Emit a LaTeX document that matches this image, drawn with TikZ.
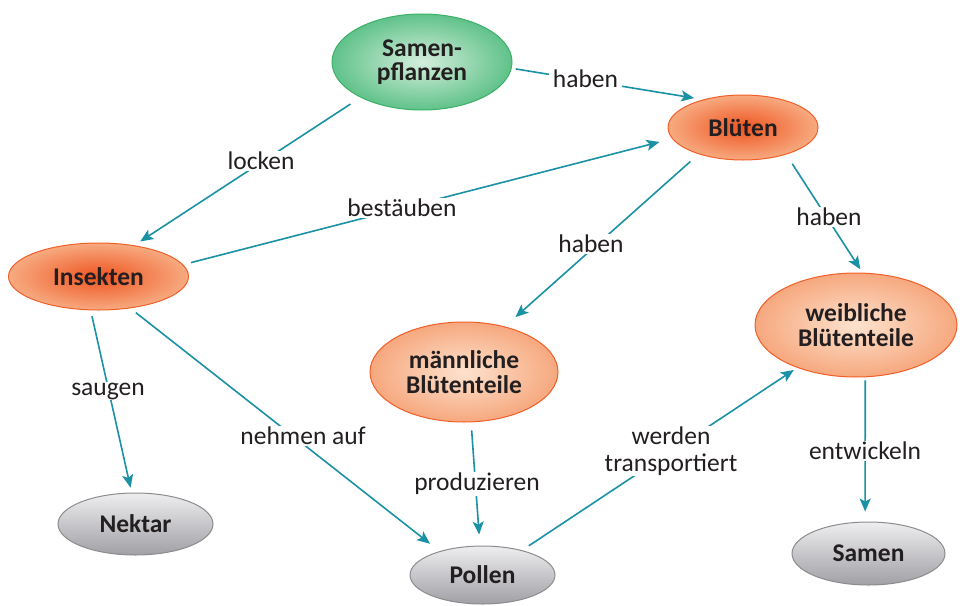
\documentclass[tikz,border=0pt]{standalone}
\usepackage{fontspec}
\setmainfont{Carlito}
\usetikzlibrary{shapes.geometric,arrows.meta}
\definecolor{tealc}{RGB}{26,145,164}
\definecolor{txt}{RGB}{35,31,32}
\definecolor{grnborder}{RGB}{60,176,104}
\definecolor{grnout}{RGB}{96,194,138}
\definecolor{grnin}{RGB}{212,238,220}
\definecolor{orborder}{RGB}{240,95,40}
\definecolor{orin}{RGB}{239,84,32}
\definecolor{orout}{RGB}{247,170,128}
\definecolor{lorin}{RGB}{253,226,206}
\definecolor{lorout}{RGB}{246,168,126}
\definecolor{grborder}{RGB}{140,140,142}
\definecolor{grtop}{RGB}{238,238,240}
\definecolor{grmid}{RGB}{222,222,225}
\definecolor{grbot}{RGB}{160,160,165}
\begin{document}
\begin{tikzpicture}[x=1pt,y=-1pt,
  ell/.style={ellipse, inner sep=0pt, align=center,
    font=\fontsize{25.5}{24.5}\selectfont\bfseries, text=txt, line width=1pt},
  greenell/.style={draw=grnborder, inner color=grnin, outer color=grnout},
  darkor/.style={draw=orborder, inner color=orin, outer color=orout},
  lightor/.style={draw=orborder, inner color=lorin, outer color=lorout},
  grayell/.style={draw=grborder, top color=grtop, middle color=grmid, bottom color=grbot},
  conn/.style={draw=tealc, line width=1.6pt,
    -{Stealth[length=13pt,width=11pt,inset=3pt]}},
  lbl/.style={fill=white, inner xsep=4pt, inner ysep=1pt, align=center,
    font=\fontsize{25.5}{27}\selectfont, text=txt}
]
\useasboundingbox (0,0) rectangle (960,605);

% concept nodes
\node[ell, greenell, minimum width=180pt, minimum height=96pt] (sp) at (422,62) {Samen-\\pflanzen};
\node[ell, darkor, minimum width=150pt, minimum height=65pt] (bl) at (743,127.5) {Blüten};
\node[ell, darkor, minimum width=180pt, minimum height=67pt] (in) at (98.5,276.5) {Insekten};
\node[ell, lightor, minimum width=188pt, minimum height=100pt] (mb) at (464,372) {männliche\\Blütenteile};
\node[ell, lightor, minimum width=202pt, minimum height=104pt] (wb) at (856,325) {weibliche\\Blütenteile};
\node[ell, grayell, minimum width=155pt, minimum height=62pt] (ne) at (135.5,524) {Nektar};
\node[ell, grayell, minimum width=145pt, minimum height=58pt] (po) at (482.5,575) {Pollen};
\node[ell, grayell, minimum width=153pt, minimum height=63pt] (sa) at (868.5,553.5) {Samen};

% connectors
\draw[conn, shorten <=4pt, shorten >=9pt] (sp.-4.3) -- (bl.145.9);
\draw[conn, shorten <=12pt, shorten >=7pt] (sp.210.8) -- (in.41.2);
\draw[conn, shorten <=8pt, shorten >=13pt] (in.8.4) -- (bl.189.2);
\draw[conn, shorten <=11pt, shorten >=14pt] (bl.211.5) -- (mb.48.8);
\draw[conn, shorten <=11pt, shorten >=4pt] (bl.-32) -- (wb.83.1);
\draw[conn, shorten <=6pt, shorten >=5pt] (in.257.9) -- (ne.97.7);
\draw[conn, shorten <=7pt, shorten >=12pt] (in.-45) -- (po.151.4);
\draw[conn, shorten <=8pt, shorten >=11pt] (mb.-82.1) -- (po.95.9);
\draw[conn, shorten <=8pt, shorten >=4pt] (po.32.8) -- (wb.216.4);
\draw[conn, shorten <=3pt, shorten >=10pt] (wb.-80.7) -- (sa.96.2);

% connector labels
\node[lbl] (l1) at (585.5,79) {haben};
\node[lbl] (l2) at (261,161) {locken};
\node[lbl] (l3) at (402,208) {bestäuben};
\node[lbl] (l4) at (591,244) {haben};
\node[lbl] (l5) at (829,217) {haben};
\node[lbl] (l6) at (108,391) {saugen};
\node[lbl] (l7) at (303,436) {nehmen auf};
\node[lbl] (l8) at (477,484) {produzieren};
\node[lbl] (l9) at (671,451) {werden\\transportiert};
\node[lbl] (l10) at (865,451) {entwickeln};
\end{tikzpicture}
\end{document}
